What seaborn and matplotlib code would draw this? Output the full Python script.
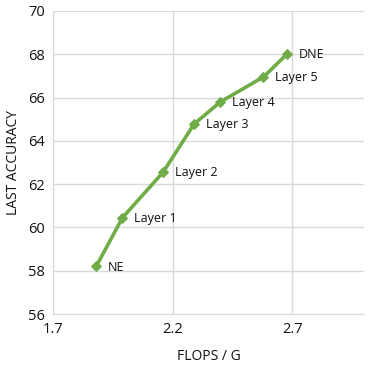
import matplotlib
matplotlib.use('Agg')
import matplotlib.pyplot as plt
import seaborn as sns
import pandas as pd

labels = ['NE', 'Layer 1', 'Layer 2', 'Layer 3', 'Layer 4', 'Layer 5', 'DNE']
flops = [1.88, 1.99, 2.16, 2.29, 2.40, 2.58, 2.68]
accuracy = [58.2, 60.45, 62.55, 64.78, 65.8, 66.95, 68.02]
x_ticks = [1.7, 2.2, 2.7]
y_ticks = [56, 58, 60, 62, 64, 66, 68, 70]

sns.set_style('whitegrid', {'grid.color': '#d9d9d9', 'axes.edgecolor': '#d9d9d9'})
plt.rcParams['font.family'] = ['Open Sans', 'DejaVu Sans']

df = pd.DataFrame({'flops': flops, 'acc': accuracy, 'label': labels})

fig = plt.figure(figsize=(3.74, 3.74), dpi=100)
ax = fig.add_axes([0.142, 0.16, 0.831, 0.811])
sns.lineplot(data=df, x='flops', y='acc', ax=ax, color='#70ad47', linewidth=2.6,
             marker='D', markersize=5, markeredgecolor='#70ad47', sort=False)
for _, r in df.iterrows():
    ax.annotate(r['label'], (r['flops'], r['acc']), xytext=(8.5, -0.5),
                textcoords='offset points', va='center', ha='left', fontsize=9, color='#111111')

ax.set_xlim(1.7, 3.0)
ax.set_ylim(56, 70)
ax.set_xticks(x_ticks)
ax.set_xticklabels([f'{v:.1f}' for v in x_ticks])
ax.set_yticks(y_ticks)
ax.tick_params(labelsize=10.5, colors='#111111', length=0, pad=6)
ax.set_xlabel('FLOPS / G', fontsize=10, color='#111111', labelpad=8)
ax.set_ylabel('LAST ACCURACY', fontsize=10, color='#111111', labelpad=5)
for s in ['top', 'right']:
    ax.spines[s].set_visible(False)
ax.grid(True, linewidth=1)

plt.savefig('out.png', dpi=100)
plt.close()
